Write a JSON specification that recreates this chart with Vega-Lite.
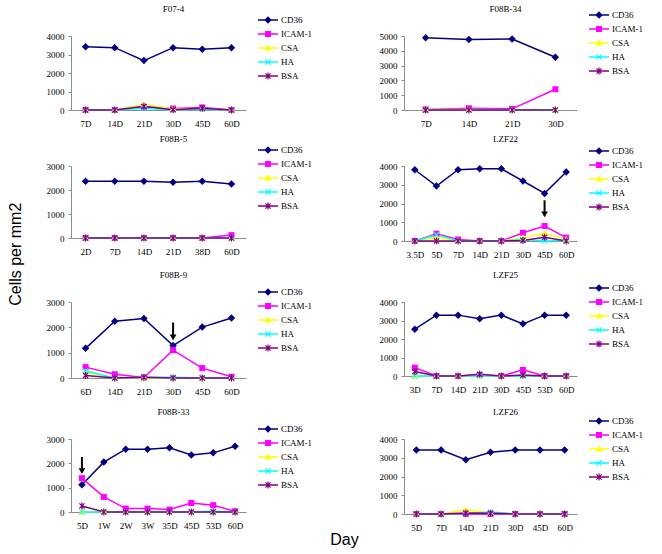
{
"$schema":"https://vega.github.io/schema/vega-lite/v6.json",
"background":"white",
"padding":{"left":7,"top":4,"right":0,"bottom":0},
"config":{
 "view":{"stroke":null},
 "axis":{"labelFont":"Liberation Serif","labelFontSize":9,"labelColor":"#000","domainColor":"#8c8c8c","tickColor":"#8c8c8c","grid":false,"title":null,"domainWidth":1},
 "axisX":{"ticks":false,"labelPadding":9,"labelAngle":0},
 "axisY":{"tickSize":3,"labelPadding":4,"format":"d"},
 "legend":{"labelFont":"Liberation Serif","labelFontSize":9,"labelColor":"#000","symbolSize":100,"symbolOpacity":1,"symbolStrokeWidth":0,"labelOffset":8,"rowPadding":4,"padding":0},
 "title":{"font":"Liberation Serif","fontSize":9,"fontWeight":"normal","color":"#000","anchor":"middle","frame":"group","baseline":"bottom","dx":15},
 "line":{"strokeWidth":1.5}
},
"datasets":{"d":[
{"p":"F07-4","day":"7D","i":0,"s":"CD36","v":3420},{"p":"F07-4","day":"14D","i":1,"s":"CD36","v":3370},{"p":"F07-4","day":"21D","i":2,"s":"CD36","v":2670},{"p":"F07-4","day":"30D","i":3,"s":"CD36","v":3370},{"p":"F07-4","day":"45D","i":4,"s":"CD36","v":3280},{"p":"F07-4","day":"60D","i":5,"s":"CD36","v":3370},
{"p":"F07-4","day":"7D","i":0,"s":"ICAM-1","v":0},{"p":"F07-4","day":"14D","i":1,"s":"ICAM-1","v":0},{"p":"F07-4","day":"21D","i":2,"s":"ICAM-1","v":150},{"p":"F07-4","day":"30D","i":3,"s":"ICAM-1","v":80},{"p":"F07-4","day":"45D","i":4,"s":"ICAM-1","v":140},{"p":"F07-4","day":"60D","i":5,"s":"ICAM-1","v":0},
{"p":"F07-4","day":"7D","i":0,"s":"CSA","v":0},{"p":"F07-4","day":"14D","i":1,"s":"CSA","v":0},{"p":"F07-4","day":"21D","i":2,"s":"CSA","v":300},{"p":"F07-4","day":"30D","i":3,"s":"CSA","v":50},{"p":"F07-4","day":"45D","i":4,"s":"CSA","v":60},{"p":"F07-4","day":"60D","i":5,"s":"CSA","v":0},
{"p":"F07-4","day":"7D","i":0,"s":"HA","v":0},{"p":"F07-4","day":"14D","i":1,"s":"HA","v":0},{"p":"F07-4","day":"21D","i":2,"s":"HA","v":90},{"p":"F07-4","day":"30D","i":3,"s":"HA","v":0},{"p":"F07-4","day":"45D","i":4,"s":"HA","v":40},{"p":"F07-4","day":"60D","i":5,"s":"HA","v":0},
{"p":"F07-4","day":"7D","i":0,"s":"BSA","v":0},{"p":"F07-4","day":"14D","i":1,"s":"BSA","v":0},{"p":"F07-4","day":"21D","i":2,"s":"BSA","v":200},{"p":"F07-4","day":"30D","i":3,"s":"BSA","v":20},{"p":"F07-4","day":"45D","i":4,"s":"BSA","v":100},{"p":"F07-4","day":"60D","i":5,"s":"BSA","v":0},

{"p":"F08B-34","day":"7D","i":0,"s":"CD36","v":4890},{"p":"F08B-34","day":"14D","i":1,"s":"CD36","v":4770},{"p":"F08B-34","day":"21D","i":2,"s":"CD36","v":4790},{"p":"F08B-34","day":"30D","i":3,"s":"CD36","v":3560},
{"p":"F08B-34","day":"7D","i":0,"s":"ICAM-1","v":40},{"p":"F08B-34","day":"14D","i":1,"s":"ICAM-1","v":120},{"p":"F08B-34","day":"21D","i":2,"s":"ICAM-1","v":80},{"p":"F08B-34","day":"30D","i":3,"s":"ICAM-1","v":1400},
{"p":"F08B-34","day":"7D","i":0,"s":"CSA","v":30},{"p":"F08B-34","day":"14D","i":1,"s":"CSA","v":40},{"p":"F08B-34","day":"21D","i":2,"s":"CSA","v":20},{"p":"F08B-34","day":"30D","i":3,"s":"CSA","v":0},
{"p":"F08B-34","day":"7D","i":0,"s":"HA","v":0},{"p":"F08B-34","day":"14D","i":1,"s":"HA","v":0},{"p":"F08B-34","day":"21D","i":2,"s":"HA","v":0},{"p":"F08B-34","day":"30D","i":3,"s":"HA","v":0},
{"p":"F08B-34","day":"7D","i":0,"s":"BSA","v":0},{"p":"F08B-34","day":"14D","i":1,"s":"BSA","v":0},{"p":"F08B-34","day":"21D","i":2,"s":"BSA","v":0},{"p":"F08B-34","day":"30D","i":3,"s":"BSA","v":0},

{"p":"F08B-5","day":"2D","i":0,"s":"CD36","v":2360},{"p":"F08B-5","day":"7D","i":1,"s":"CD36","v":2360},{"p":"F08B-5","day":"14D","i":2,"s":"CD36","v":2360},{"p":"F08B-5","day":"21D","i":3,"s":"CD36","v":2320},{"p":"F08B-5","day":"38D","i":4,"s":"CD36","v":2360},{"p":"F08B-5","day":"60D","i":5,"s":"CD36","v":2250},
{"p":"F08B-5","day":"2D","i":0,"s":"ICAM-1","v":0},{"p":"F08B-5","day":"7D","i":1,"s":"ICAM-1","v":0},{"p":"F08B-5","day":"14D","i":2,"s":"ICAM-1","v":0},{"p":"F08B-5","day":"21D","i":3,"s":"ICAM-1","v":0},{"p":"F08B-5","day":"38D","i":4,"s":"ICAM-1","v":0},{"p":"F08B-5","day":"60D","i":5,"s":"ICAM-1","v":120},
{"p":"F08B-5","day":"2D","i":0,"s":"CSA","v":0},{"p":"F08B-5","day":"7D","i":1,"s":"CSA","v":0},{"p":"F08B-5","day":"14D","i":2,"s":"CSA","v":0},{"p":"F08B-5","day":"21D","i":3,"s":"CSA","v":0},{"p":"F08B-5","day":"38D","i":4,"s":"CSA","v":0},{"p":"F08B-5","day":"60D","i":5,"s":"CSA","v":0},
{"p":"F08B-5","day":"2D","i":0,"s":"HA","v":0},{"p":"F08B-5","day":"7D","i":1,"s":"HA","v":0},{"p":"F08B-5","day":"14D","i":2,"s":"HA","v":0},{"p":"F08B-5","day":"21D","i":3,"s":"HA","v":0},{"p":"F08B-5","day":"38D","i":4,"s":"HA","v":0},{"p":"F08B-5","day":"60D","i":5,"s":"HA","v":0},
{"p":"F08B-5","day":"2D","i":0,"s":"BSA","v":0},{"p":"F08B-5","day":"7D","i":1,"s":"BSA","v":0},{"p":"F08B-5","day":"14D","i":2,"s":"BSA","v":0},{"p":"F08B-5","day":"21D","i":3,"s":"BSA","v":0},{"p":"F08B-5","day":"38D","i":4,"s":"BSA","v":0},{"p":"F08B-5","day":"60D","i":5,"s":"BSA","v":0},

{"p":"LZF22","day":"3.5D","i":0,"s":"CD36","v":3800},{"p":"LZF22","day":"5D","i":1,"s":"CD36","v":2930},{"p":"LZF22","day":"7D","i":2,"s":"CD36","v":3800},{"p":"LZF22","day":"14D","i":3,"s":"CD36","v":3850},{"p":"LZF22","day":"21D","i":4,"s":"CD36","v":3850},{"p":"LZF22","day":"30D","i":5,"s":"CD36","v":3200},{"p":"LZF22","day":"45D","i":6,"s":"CD36","v":2540},{"p":"LZF22","day":"60D","i":7,"s":"CD36","v":3680},
{"p":"LZF22","day":"3.5D","i":0,"s":"ICAM-1","v":0},{"p":"LZF22","day":"5D","i":1,"s":"ICAM-1","v":390},{"p":"LZF22","day":"7D","i":2,"s":"ICAM-1","v":80},{"p":"LZF22","day":"14D","i":3,"s":"ICAM-1","v":0},{"p":"LZF22","day":"21D","i":4,"s":"ICAM-1","v":0},{"p":"LZF22","day":"30D","i":5,"s":"ICAM-1","v":440},{"p":"LZF22","day":"45D","i":6,"s":"ICAM-1","v":800},{"p":"LZF22","day":"60D","i":7,"s":"ICAM-1","v":180},
{"p":"LZF22","day":"3.5D","i":0,"s":"CSA","v":0},{"p":"LZF22","day":"5D","i":1,"s":"CSA","v":200},{"p":"LZF22","day":"7D","i":2,"s":"CSA","v":30},{"p":"LZF22","day":"14D","i":3,"s":"CSA","v":0},{"p":"LZF22","day":"21D","i":4,"s":"CSA","v":0},{"p":"LZF22","day":"30D","i":5,"s":"CSA","v":180},{"p":"LZF22","day":"45D","i":6,"s":"CSA","v":400},{"p":"LZF22","day":"60D","i":7,"s":"CSA","v":100},
{"p":"LZF22","day":"3.5D","i":0,"s":"HA","v":0},{"p":"LZF22","day":"5D","i":1,"s":"HA","v":330},{"p":"LZF22","day":"7D","i":2,"s":"HA","v":20},{"p":"LZF22","day":"14D","i":3,"s":"HA","v":0},{"p":"LZF22","day":"21D","i":4,"s":"HA","v":0},{"p":"LZF22","day":"30D","i":5,"s":"HA","v":80},{"p":"LZF22","day":"45D","i":6,"s":"HA","v":0},{"p":"LZF22","day":"60D","i":7,"s":"HA","v":30},
{"p":"LZF22","day":"3.5D","i":0,"s":"BSA","v":0},{"p":"LZF22","day":"5D","i":1,"s":"BSA","v":0},{"p":"LZF22","day":"7D","i":2,"s":"BSA","v":0},{"p":"LZF22","day":"14D","i":3,"s":"BSA","v":0},{"p":"LZF22","day":"21D","i":4,"s":"BSA","v":0},{"p":"LZF22","day":"30D","i":5,"s":"BSA","v":30},{"p":"LZF22","day":"45D","i":6,"s":"BSA","v":200},{"p":"LZF22","day":"60D","i":7,"s":"BSA","v":0},

{"p":"F08B-9","day":"6D","i":0,"s":"CD36","v":1170},{"p":"F08B-9","day":"14D","i":1,"s":"CD36","v":2240},{"p":"F08B-9","day":"21D","i":2,"s":"CD36","v":2350},{"p":"F08B-9","day":"30D","i":3,"s":"CD36","v":1280},{"p":"F08B-9","day":"45D","i":4,"s":"CD36","v":2010},{"p":"F08B-9","day":"60D","i":5,"s":"CD36","v":2370},
{"p":"F08B-9","day":"6D","i":0,"s":"ICAM-1","v":430},{"p":"F08B-9","day":"14D","i":1,"s":"ICAM-1","v":150},{"p":"F08B-9","day":"21D","i":2,"s":"ICAM-1","v":20},{"p":"F08B-9","day":"30D","i":3,"s":"ICAM-1","v":1100},{"p":"F08B-9","day":"45D","i":4,"s":"ICAM-1","v":390},{"p":"F08B-9","day":"60D","i":5,"s":"ICAM-1","v":50},
{"p":"F08B-9","day":"6D","i":0,"s":"CSA","v":230},{"p":"F08B-9","day":"14D","i":1,"s":"CSA","v":0},{"p":"F08B-9","day":"21D","i":2,"s":"CSA","v":0},{"p":"F08B-9","day":"30D","i":3,"s":"CSA","v":0},{"p":"F08B-9","day":"45D","i":4,"s":"CSA","v":0},{"p":"F08B-9","day":"60D","i":5,"s":"CSA","v":0},
{"p":"F08B-9","day":"6D","i":0,"s":"HA","v":280},{"p":"F08B-9","day":"14D","i":1,"s":"HA","v":0},{"p":"F08B-9","day":"21D","i":2,"s":"HA","v":30},{"p":"F08B-9","day":"30D","i":3,"s":"HA","v":30},{"p":"F08B-9","day":"45D","i":4,"s":"HA","v":0},{"p":"F08B-9","day":"60D","i":5,"s":"HA","v":0},
{"p":"F08B-9","day":"6D","i":0,"s":"BSA","v":100},{"p":"F08B-9","day":"14D","i":1,"s":"BSA","v":0},{"p":"F08B-9","day":"21D","i":2,"s":"BSA","v":30},{"p":"F08B-9","day":"30D","i":3,"s":"BSA","v":0},{"p":"F08B-9","day":"45D","i":4,"s":"BSA","v":0},{"p":"F08B-9","day":"60D","i":5,"s":"BSA","v":0},

{"p":"LZF25","day":"3D","i":0,"s":"CD36","v":2530},{"p":"LZF25","day":"7D","i":1,"s":"CD36","v":3290},{"p":"LZF25","day":"14D","i":2,"s":"CD36","v":3290},{"p":"LZF25","day":"21D","i":3,"s":"CD36","v":3090},{"p":"LZF25","day":"30D","i":4,"s":"CD36","v":3290},{"p":"LZF25","day":"45D","i":5,"s":"CD36","v":2820},{"p":"LZF25","day":"53D","i":6,"s":"CD36","v":3290},{"p":"LZF25","day":"60D","i":7,"s":"CD36","v":3290},
{"p":"LZF25","day":"3D","i":0,"s":"ICAM-1","v":450},{"p":"LZF25","day":"7D","i":1,"s":"ICAM-1","v":0},{"p":"LZF25","day":"14D","i":2,"s":"ICAM-1","v":0},{"p":"LZF25","day":"21D","i":3,"s":"ICAM-1","v":50},{"p":"LZF25","day":"30D","i":4,"s":"ICAM-1","v":0},{"p":"LZF25","day":"45D","i":5,"s":"ICAM-1","v":330},{"p":"LZF25","day":"53D","i":6,"s":"ICAM-1","v":0},{"p":"LZF25","day":"60D","i":7,"s":"ICAM-1","v":0},
{"p":"LZF25","day":"3D","i":0,"s":"CSA","v":0},{"p":"LZF25","day":"7D","i":1,"s":"CSA","v":0},{"p":"LZF25","day":"14D","i":2,"s":"CSA","v":0},{"p":"LZF25","day":"21D","i":3,"s":"CSA","v":0},{"p":"LZF25","day":"30D","i":4,"s":"CSA","v":0},{"p":"LZF25","day":"45D","i":5,"s":"CSA","v":0},{"p":"LZF25","day":"53D","i":6,"s":"CSA","v":0},{"p":"LZF25","day":"60D","i":7,"s":"CSA","v":0},
{"p":"LZF25","day":"3D","i":0,"s":"HA","v":0},{"p":"LZF25","day":"7D","i":1,"s":"HA","v":0},{"p":"LZF25","day":"14D","i":2,"s":"HA","v":0},{"p":"LZF25","day":"21D","i":3,"s":"HA","v":0},{"p":"LZF25","day":"30D","i":4,"s":"HA","v":0},{"p":"LZF25","day":"45D","i":5,"s":"HA","v":0},{"p":"LZF25","day":"53D","i":6,"s":"HA","v":0},{"p":"LZF25","day":"60D","i":7,"s":"HA","v":0},
{"p":"LZF25","day":"3D","i":0,"s":"BSA","v":240},{"p":"LZF25","day":"7D","i":1,"s":"BSA","v":0},{"p":"LZF25","day":"14D","i":2,"s":"BSA","v":0},{"p":"LZF25","day":"21D","i":3,"s":"BSA","v":90},{"p":"LZF25","day":"30D","i":4,"s":"BSA","v":0},{"p":"LZF25","day":"45D","i":5,"s":"BSA","v":50},{"p":"LZF25","day":"53D","i":6,"s":"BSA","v":0},{"p":"LZF25","day":"60D","i":7,"s":"BSA","v":0},

{"p":"F08B-33","day":"5D","i":0,"s":"CD36","v":1120},{"p":"F08B-33","day":"1W","i":1,"s":"CD36","v":2050},{"p":"F08B-33","day":"2W","i":2,"s":"CD36","v":2580},{"p":"F08B-33","day":"3W","i":3,"s":"CD36","v":2580},{"p":"F08B-33","day":"35D","i":4,"s":"CD36","v":2640},{"p":"F08B-33","day":"45D","i":5,"s":"CD36","v":2340},{"p":"F08B-33","day":"53D","i":6,"s":"CD36","v":2430},{"p":"F08B-33","day":"60D","i":7,"s":"CD36","v":2700},
{"p":"F08B-33","day":"5D","i":0,"s":"ICAM-1","v":1390},{"p":"F08B-33","day":"1W","i":1,"s":"ICAM-1","v":620},{"p":"F08B-33","day":"2W","i":2,"s":"ICAM-1","v":140},{"p":"F08B-33","day":"3W","i":3,"s":"ICAM-1","v":140},{"p":"F08B-33","day":"35D","i":4,"s":"ICAM-1","v":100},{"p":"F08B-33","day":"45D","i":5,"s":"ICAM-1","v":370},{"p":"F08B-33","day":"53D","i":6,"s":"ICAM-1","v":280},{"p":"F08B-33","day":"60D","i":7,"s":"ICAM-1","v":30},
{"p":"F08B-33","day":"5D","i":0,"s":"CSA","v":0},{"p":"F08B-33","day":"1W","i":1,"s":"CSA","v":30},{"p":"F08B-33","day":"2W","i":2,"s":"CSA","v":0},{"p":"F08B-33","day":"3W","i":3,"s":"CSA","v":0},{"p":"F08B-33","day":"35D","i":4,"s":"CSA","v":0},{"p":"F08B-33","day":"45D","i":5,"s":"CSA","v":0},{"p":"F08B-33","day":"53D","i":6,"s":"CSA","v":0},{"p":"F08B-33","day":"60D","i":7,"s":"CSA","v":0},
{"p":"F08B-33","day":"5D","i":0,"s":"HA","v":0},{"p":"F08B-33","day":"1W","i":1,"s":"HA","v":0},{"p":"F08B-33","day":"2W","i":2,"s":"HA","v":0},{"p":"F08B-33","day":"3W","i":3,"s":"HA","v":0},{"p":"F08B-33","day":"35D","i":4,"s":"HA","v":0},{"p":"F08B-33","day":"45D","i":5,"s":"HA","v":0},{"p":"F08B-33","day":"53D","i":6,"s":"HA","v":30},{"p":"F08B-33","day":"60D","i":7,"s":"HA","v":0},
{"p":"F08B-33","day":"5D","i":0,"s":"BSA","v":250},{"p":"F08B-33","day":"1W","i":1,"s":"BSA","v":0},{"p":"F08B-33","day":"2W","i":2,"s":"BSA","v":0},{"p":"F08B-33","day":"3W","i":3,"s":"BSA","v":0},{"p":"F08B-33","day":"35D","i":4,"s":"BSA","v":0},{"p":"F08B-33","day":"45D","i":5,"s":"BSA","v":0},{"p":"F08B-33","day":"53D","i":6,"s":"BSA","v":0},{"p":"F08B-33","day":"60D","i":7,"s":"BSA","v":0},

{"p":"LZF26","day":"5D","i":0,"s":"CD36","v":3410},{"p":"LZF26","day":"7D","i":1,"s":"CD36","v":3410},{"p":"LZF26","day":"14D","i":2,"s":"CD36","v":2900},{"p":"LZF26","day":"21D","i":3,"s":"CD36","v":3290},{"p":"LZF26","day":"30D","i":4,"s":"CD36","v":3410},{"p":"LZF26","day":"45D","i":5,"s":"CD36","v":3410},{"p":"LZF26","day":"60D","i":6,"s":"CD36","v":3410},
{"p":"LZF26","day":"5D","i":0,"s":"ICAM-1","v":0},{"p":"LZF26","day":"7D","i":1,"s":"ICAM-1","v":0},{"p":"LZF26","day":"14D","i":2,"s":"ICAM-1","v":0},{"p":"LZF26","day":"21D","i":3,"s":"ICAM-1","v":0},{"p":"LZF26","day":"30D","i":4,"s":"ICAM-1","v":0},{"p":"LZF26","day":"45D","i":5,"s":"ICAM-1","v":0},{"p":"LZF26","day":"60D","i":6,"s":"ICAM-1","v":0},
{"p":"LZF26","day":"5D","i":0,"s":"CSA","v":0},{"p":"LZF26","day":"7D","i":1,"s":"CSA","v":0},{"p":"LZF26","day":"14D","i":2,"s":"CSA","v":220},{"p":"LZF26","day":"21D","i":3,"s":"CSA","v":50},{"p":"LZF26","day":"30D","i":4,"s":"CSA","v":0},{"p":"LZF26","day":"45D","i":5,"s":"CSA","v":0},{"p":"LZF26","day":"60D","i":6,"s":"CSA","v":0},
{"p":"LZF26","day":"5D","i":0,"s":"HA","v":0},{"p":"LZF26","day":"7D","i":1,"s":"HA","v":0},{"p":"LZF26","day":"14D","i":2,"s":"HA","v":30},{"p":"LZF26","day":"21D","i":3,"s":"HA","v":100},{"p":"LZF26","day":"30D","i":4,"s":"HA","v":0},{"p":"LZF26","day":"45D","i":5,"s":"HA","v":0},{"p":"LZF26","day":"60D","i":6,"s":"HA","v":0},
{"p":"LZF26","day":"5D","i":0,"s":"BSA","v":0},{"p":"LZF26","day":"7D","i":1,"s":"BSA","v":0},{"p":"LZF26","day":"14D","i":2,"s":"BSA","v":50},{"p":"LZF26","day":"21D","i":3,"s":"BSA","v":40},{"p":"LZF26","day":"30D","i":4,"s":"BSA","v":0},{"p":"LZF26","day":"45D","i":5,"s":"BSA","v":0},{"p":"LZF26","day":"60D","i":6,"s":"BSA","v":0}
],
"arrows":[
{"p":"LZF22","day":"45D","v":2170,"v2":1420},
{"p":"F08B-9","day":"30D","v":2190,"v2":1600},
{"p":"F08B-33","day":"5D","v":2260,"v2":1680}
]},
"title":{"text":"Cells per mm2","orient":"left","font":"Liberation Sans","fontSize":16,"offset":22,"dx":22,"dy":0,"frame":"bounds"},
"hconcat":[{
 "title":{"text":"Day","orient":"bottom","font":"Liberation Sans","fontSize":16,"offset":0,"baseline":"top","dx":0,"frame":"bounds"},
 "spacing":6,
 "vconcat":[
  {"spacing":67,"hconcat":[
   {"width":175,"height":74,"title":{"text":"F07-4","offset":1.5},"data":{"name":"d"},"transform":[{"filter":"datum.p==='F07-4'"}],
    "encoding":{"x":{"field":"day","type":"ordinal","scale":{"type":"point","padding":0.5,"domain":["7D","14D","21D","30D","45D","60D"]}},"y":{"field":"v","type":"quantitative","scale":{"domain":[0,4000],"nice":false},"axis":{"values":[0,1000,2000,3000,4000]}}},
    "layer":[
     {"mark":"line","encoding":{"color":{"field":"s","type":"nominal","scale":{"domain":["CD36","ICAM-1","CSA","HA","BSA"],"range":["#000080","#FF00FF","#FFFF00","#00FFFF","#800080"]},"legend":null},"order":{"field":"i","type":"quantitative"}}},
     {"mark":{"type":"point","filled":true,"opacity":1,"size":100},"encoding":{"color":{"field":"s","type":"nominal","scale":{"domain":["CD36","ICAM-1","CSA","HA","BSA"],"range":["#000080","#FF00FF","#FFFF00","#00FFFF","#800080"]},"legend":null},"shape":{"field":"s","type":"nominal","scale":{"domain":["CD36","ICAM-1","CSA","HA","BSA"],"range":["M0,-0.75L0.75,0L0,0.75L-0.75,0Z","M-0.6,-0.6H0.6V0.6H-0.6Z","M0,-0.7L0.7,0.5H-0.7Z","M-0.6,-0.43L-0.43,-0.6L0.6,0.43L0.43,0.6ZM-0.43,0.6L-0.6,0.43L0.43,-0.6L0.6,-0.43Z","M-0.6,-0.43L-0.43,-0.6L0.6,0.43L0.43,0.6ZM-0.43,0.6L-0.6,0.43L0.43,-0.6L0.6,-0.43ZM-0.12,-0.7H0.12V0.7H-0.12Z"]},"legend":null}}},
     {"mark":{"type":"point","filled":true,"opacity":0,"size":100},"encoding":{"color":{"field":"s","type":"nominal","scale":{"domain":["CD36","ICAM-1","CSA","HA","BSA"],"range":["#000080","#FF00FF","#FFFF00","#00FFFF","#800080"]},"legend":{"orient":"none","legendX":192,"legendY":-21,"title":null}},"shape":{"field":"s","type":"nominal","scale":{"domain":["CD36","ICAM-1","CSA","HA","BSA"],"range":["M-2,-0.15H2V0.15H-2ZM0,-0.75L0.75,0L0,0.75L-0.75,0Z","M-2,-0.15H2V0.15H-2ZM-0.6,-0.6H0.6V0.6H-0.6Z","M-2,-0.15H2V0.15H-2ZM0,-0.7L0.7,0.5H-0.7Z","M-2,-0.15H2V0.15H-2ZM-0.6,-0.43L-0.43,-0.6L0.6,0.43L0.43,0.6ZM-0.43,0.6L-0.6,0.43L0.43,-0.6L0.6,-0.43Z","M-2,-0.15H2V0.15H-2ZM-0.6,-0.43L-0.43,-0.6L0.6,0.43L0.43,0.6ZM-0.43,0.6L-0.6,0.43L0.43,-0.6L0.6,-0.43ZM-0.12,-0.7H0.12V0.7H-0.12Z"]},"legend":{"orient":"none","legendX":192,"legendY":-21,"title":null}}}}
    ],
    "resolve":{"scale":{"color":"independent","shape":"independent"}}},
   {"width":173,"height":74,"title":{"text":"F08B-34","offset":-3.5},"data":{"name":"d"},"transform":[{"filter":"datum.p==='F08B-34'"}],
    "encoding":{"x":{"field":"day","type":"ordinal","scale":{"type":"point","padding":0.5,"domain":["7D","14D","21D","30D"]}},"y":{"field":"v","type":"quantitative","scale":{"domain":[0,5000],"nice":false},"axis":{"values":[0,1000,2000,3000,4000,5000]}}},
    "layer":[
     {"mark":"line","encoding":{"color":{"field":"s","type":"nominal","scale":{"domain":["CD36","ICAM-1","CSA","HA","BSA"],"range":["#000080","#FF00FF","#FFFF00","#00FFFF","#800080"]},"legend":null},"order":{"field":"i","type":"quantitative"}}},
     {"mark":{"type":"point","filled":true,"opacity":1,"size":100},"encoding":{"color":{"field":"s","type":"nominal","scale":{"domain":["CD36","ICAM-1","CSA","HA","BSA"],"range":["#000080","#FF00FF","#FFFF00","#00FFFF","#800080"]},"legend":null},"shape":{"field":"s","type":"nominal","scale":{"domain":["CD36","ICAM-1","CSA","HA","BSA"],"range":["M0,-0.75L0.75,0L0,0.75L-0.75,0Z","M-0.6,-0.6H0.6V0.6H-0.6Z","M0,-0.7L0.7,0.5H-0.7Z","M-0.6,-0.43L-0.43,-0.6L0.6,0.43L0.43,0.6ZM-0.43,0.6L-0.6,0.43L0.43,-0.6L0.6,-0.43Z","M-0.6,-0.43L-0.43,-0.6L0.6,0.43L0.43,0.6ZM-0.43,0.6L-0.6,0.43L0.43,-0.6L0.6,-0.43ZM-0.12,-0.7H0.12V0.7H-0.12Z"]},"legend":null}}},
     {"mark":{"type":"point","filled":true,"opacity":0,"size":100},"encoding":{"color":{"field":"s","type":"nominal","scale":{"domain":["CD36","ICAM-1","CSA","HA","BSA"],"range":["#000080","#FF00FF","#FFFF00","#00FFFF","#800080"]},"legend":{"orient":"none","legendX":190,"legendY":-26,"title":null}},"shape":{"field":"s","type":"nominal","scale":{"domain":["CD36","ICAM-1","CSA","HA","BSA"],"range":["M-2,-0.15H2V0.15H-2ZM0,-0.75L0.75,0L0,0.75L-0.75,0Z","M-2,-0.15H2V0.15H-2ZM-0.6,-0.6H0.6V0.6H-0.6Z","M-2,-0.15H2V0.15H-2ZM0,-0.7L0.7,0.5H-0.7Z","M-2,-0.15H2V0.15H-2ZM-0.6,-0.43L-0.43,-0.6L0.6,0.43L0.43,0.6ZM-0.43,0.6L-0.6,0.43L0.43,-0.6L0.6,-0.43Z","M-2,-0.15H2V0.15H-2ZM-0.6,-0.43L-0.43,-0.6L0.6,0.43L0.43,0.6ZM-0.43,0.6L-0.6,0.43L0.43,-0.6L0.6,-0.43ZM-0.12,-0.7H0.12V0.7H-0.12Z"]},"legend":{"orient":"none","legendX":190,"legendY":-26,"title":null}}}}
    ],
    "resolve":{"scale":{"color":"independent","shape":"independent"}}}
  ]},
  {"spacing":11,"vconcat":[
   {"spacing":67,"hconcat":[
    {"width":175,"height":72,"title":{"text":"F08B-5","offset":1.5},"data":{"name":"d"},"transform":[{"filter":"datum.p==='F08B-5'"}],
     "encoding":{"x":{"field":"day","type":"ordinal","scale":{"type":"point","padding":0.5,"domain":["2D","7D","14D","21D","38D","60D"]}},"y":{"field":"v","type":"quantitative","scale":{"domain":[0,3000],"nice":false},"axis":{"values":[0,1000,2000,3000]}}},
     "layer":[
      {"mark":"line","encoding":{"color":{"field":"s","type":"nominal","scale":{"domain":["CD36","ICAM-1","CSA","HA","BSA"],"range":["#000080","#FF00FF","#FFFF00","#00FFFF","#800080"]},"legend":null},"order":{"field":"i","type":"quantitative"}}},
      {"mark":{"type":"point","filled":true,"opacity":1,"size":100},"encoding":{"color":{"field":"s","type":"nominal","scale":{"domain":["CD36","ICAM-1","CSA","HA","BSA"],"range":["#000080","#FF00FF","#FFFF00","#00FFFF","#800080"]},"legend":null},"shape":{"field":"s","type":"nominal","scale":{"domain":["CD36","ICAM-1","CSA","HA","BSA"],"range":["M0,-0.75L0.75,0L0,0.75L-0.75,0Z","M-0.6,-0.6H0.6V0.6H-0.6Z","M0,-0.7L0.7,0.5H-0.7Z","M-0.6,-0.43L-0.43,-0.6L0.6,0.43L0.43,0.6ZM-0.43,0.6L-0.6,0.43L0.43,-0.6L0.6,-0.43Z","M-0.6,-0.43L-0.43,-0.6L0.6,0.43L0.43,0.6ZM-0.43,0.6L-0.6,0.43L0.43,-0.6L0.6,-0.43ZM-0.12,-0.7H0.12V0.7H-0.12Z"]},"legend":null}}},
      {"mark":{"type":"point","filled":true,"opacity":0,"size":100},"encoding":{"color":{"field":"s","type":"nominal","scale":{"domain":["CD36","ICAM-1","CSA","HA","BSA"],"range":["#000080","#FF00FF","#FFFF00","#00FFFF","#800080"]},"legend":{"orient":"none","legendX":192,"legendY":-21,"title":null}},"shape":{"field":"s","type":"nominal","scale":{"domain":["CD36","ICAM-1","CSA","HA","BSA"],"range":["M-2,-0.15H2V0.15H-2ZM0,-0.75L0.75,0L0,0.75L-0.75,0Z","M-2,-0.15H2V0.15H-2ZM-0.6,-0.6H0.6V0.6H-0.6Z","M-2,-0.15H2V0.15H-2ZM0,-0.7L0.7,0.5H-0.7Z","M-2,-0.15H2V0.15H-2ZM-0.6,-0.43L-0.43,-0.6L0.6,0.43L0.43,0.6ZM-0.43,0.6L-0.6,0.43L0.43,-0.6L0.6,-0.43Z","M-2,-0.15H2V0.15H-2ZM-0.6,-0.43L-0.43,-0.6L0.6,0.43L0.43,0.6ZM-0.43,0.6L-0.6,0.43L0.43,-0.6L0.6,-0.43ZM-0.12,-0.7H0.12V0.7H-0.12Z"]},"legend":{"orient":"none","legendX":192,"legendY":-21,"title":null}}}}
     ],
     "resolve":{"scale":{"color":"independent","shape":"independent"}}},
    {"width":173,"height":75,"title":{"text":"LZF22","offset":2.5},"data":{"name":"d"},"transform":[{"filter":"datum.p==='LZF22'"}],
     "encoding":{"x":{"field":"day","type":"ordinal","scale":{"type":"point","padding":0.5,"domain":["3.5D","5D","7D","14D","21D","30D","45D","60D"]}},"y":{"field":"v","type":"quantitative","scale":{"domain":[0,4000],"nice":false},"axis":{"values":[0,1000,2000,3000,4000]}}},
     "layer":[
      {"mark":"line","encoding":{"color":{"field":"s","type":"nominal","scale":{"domain":["CD36","ICAM-1","CSA","HA","BSA"],"range":["#000080","#FF00FF","#FFFF00","#00FFFF","#800080"]},"legend":null},"order":{"field":"i","type":"quantitative"}}},
      {"mark":{"type":"point","filled":true,"opacity":1,"size":100},"encoding":{"color":{"field":"s","type":"nominal","scale":{"domain":["CD36","ICAM-1","CSA","HA","BSA"],"range":["#000080","#FF00FF","#FFFF00","#00FFFF","#800080"]},"legend":null},"shape":{"field":"s","type":"nominal","scale":{"domain":["CD36","ICAM-1","CSA","HA","BSA"],"range":["M0,-0.75L0.75,0L0,0.75L-0.75,0Z","M-0.6,-0.6H0.6V0.6H-0.6Z","M0,-0.7L0.7,0.5H-0.7Z","M-0.6,-0.43L-0.43,-0.6L0.6,0.43L0.43,0.6ZM-0.43,0.6L-0.6,0.43L0.43,-0.6L0.6,-0.43Z","M-0.6,-0.43L-0.43,-0.6L0.6,0.43L0.43,0.6ZM-0.43,0.6L-0.6,0.43L0.43,-0.6L0.6,-0.43ZM-0.12,-0.7H0.12V0.7H-0.12Z"]},"legend":null}}},
      {"mark":{"type":"point","filled":true,"opacity":0,"size":100},"encoding":{"color":{"field":"s","type":"nominal","scale":{"domain":["CD36","ICAM-1","CSA","HA","BSA"],"range":["#000080","#FF00FF","#FFFF00","#00FFFF","#800080"]},"legend":{"orient":"none","legendX":190,"legendY":-20,"title":null}},"shape":{"field":"s","type":"nominal","scale":{"domain":["CD36","ICAM-1","CSA","HA","BSA"],"range":["M-2,-0.15H2V0.15H-2ZM0,-0.75L0.75,0L0,0.75L-0.75,0Z","M-2,-0.15H2V0.15H-2ZM-0.6,-0.6H0.6V0.6H-0.6Z","M-2,-0.15H2V0.15H-2ZM0,-0.7L0.7,0.5H-0.7Z","M-2,-0.15H2V0.15H-2ZM-0.6,-0.43L-0.43,-0.6L0.6,0.43L0.43,0.6ZM-0.43,0.6L-0.6,0.43L0.43,-0.6L0.6,-0.43Z","M-2,-0.15H2V0.15H-2ZM-0.6,-0.43L-0.43,-0.6L0.6,0.43L0.43,0.6ZM-0.43,0.6L-0.6,0.43L0.43,-0.6L0.6,-0.43ZM-0.12,-0.7H0.12V0.7H-0.12Z"]},"legend":{"orient":"none","legendX":190,"legendY":-20,"title":null}}}},
      {"data":{"name":"arrows"},"transform":[{"filter":"datum.p==='LZF22'"}],"layer":[
       {"mark":{"type":"rule","color":"#000","strokeWidth":2},"encoding":{"y2":{"field":"v2"}}},
       {"mark":{"type":"point","shape":"triangle-down","filled":true,"color":"#000","opacity":1,"size":45},"encoding":{"y":{"field":"v2","type":"quantitative"}}}
      ]}
     ],
     "resolve":{"scale":{"color":"independent","shape":"independent"}}}
   ]},
   {"spacing":67,"hconcat":[
    {"width":175,"height":76,"title":{"text":"F08B-9","offset":7.5},"data":{"name":"d"},"transform":[{"filter":"datum.p==='F08B-9'"}],
     "encoding":{"x":{"field":"day","type":"ordinal","scale":{"type":"point","padding":0.5,"domain":["6D","14D","21D","30D","45D","60D"]}},"y":{"field":"v","type":"quantitative","scale":{"domain":[0,3000],"nice":false},"axis":{"values":[0,1000,2000,3000]}}},
     "layer":[
      {"mark":"line","encoding":{"color":{"field":"s","type":"nominal","scale":{"domain":["CD36","ICAM-1","CSA","HA","BSA"],"range":["#000080","#FF00FF","#FFFF00","#00FFFF","#800080"]},"legend":null},"order":{"field":"i","type":"quantitative"}}},
      {"mark":{"type":"point","filled":true,"opacity":1,"size":100},"encoding":{"color":{"field":"s","type":"nominal","scale":{"domain":["CD36","ICAM-1","CSA","HA","BSA"],"range":["#000080","#FF00FF","#FFFF00","#00FFFF","#800080"]},"legend":null},"shape":{"field":"s","type":"nominal","scale":{"domain":["CD36","ICAM-1","CSA","HA","BSA"],"range":["M0,-0.75L0.75,0L0,0.75L-0.75,0Z","M-0.6,-0.6H0.6V0.6H-0.6Z","M0,-0.7L0.7,0.5H-0.7Z","M-0.6,-0.43L-0.43,-0.6L0.6,0.43L0.43,0.6ZM-0.43,0.6L-0.6,0.43L0.43,-0.6L0.6,-0.43Z","M-0.6,-0.43L-0.43,-0.6L0.6,0.43L0.43,0.6ZM-0.43,0.6L-0.6,0.43L0.43,-0.6L0.6,-0.43ZM-0.12,-0.7H0.12V0.7H-0.12Z"]},"legend":null}}},
      {"mark":{"type":"point","filled":true,"opacity":0,"size":100},"encoding":{"color":{"field":"s","type":"nominal","scale":{"domain":["CD36","ICAM-1","CSA","HA","BSA"],"range":["#000080","#FF00FF","#FFFF00","#00FFFF","#800080"]},"legend":{"orient":"none","legendX":192,"legendY":-15,"title":null}},"shape":{"field":"s","type":"nominal","scale":{"domain":["CD36","ICAM-1","CSA","HA","BSA"],"range":["M-2,-0.15H2V0.15H-2ZM0,-0.75L0.75,0L0,0.75L-0.75,0Z","M-2,-0.15H2V0.15H-2ZM-0.6,-0.6H0.6V0.6H-0.6Z","M-2,-0.15H2V0.15H-2ZM0,-0.7L0.7,0.5H-0.7Z","M-2,-0.15H2V0.15H-2ZM-0.6,-0.43L-0.43,-0.6L0.6,0.43L0.43,0.6ZM-0.43,0.6L-0.6,0.43L0.43,-0.6L0.6,-0.43Z","M-2,-0.15H2V0.15H-2ZM-0.6,-0.43L-0.43,-0.6L0.6,0.43L0.43,0.6ZM-0.43,0.6L-0.6,0.43L0.43,-0.6L0.6,-0.43ZM-0.12,-0.7H0.12V0.7H-0.12Z"]},"legend":{"orient":"none","legendX":192,"legendY":-15,"title":null}}}},
      {"data":{"name":"arrows"},"transform":[{"filter":"datum.p==='F08B-9'"}],"layer":[
       {"mark":{"type":"rule","color":"#000","strokeWidth":2},"encoding":{"y2":{"field":"v2"}}},
       {"mark":{"type":"point","shape":"triangle-down","filled":true,"color":"#000","opacity":1,"size":45},"encoding":{"y":{"field":"v2","type":"quantitative"}}}
      ]}
     ],
     "resolve":{"scale":{"color":"independent","shape":"independent"}}},
    {"width":173,"height":74,"title":{"text":"LZF25","offset":3.5},"data":{"name":"d"},"transform":[{"filter":"datum.p==='LZF25'"}],
     "encoding":{"x":{"field":"day","type":"ordinal","scale":{"type":"point","padding":0.5,"domain":["3D","7D","14D","21D","30D","45D","53D","60D"]}},"y":{"field":"v","type":"quantitative","scale":{"domain":[0,4000],"nice":false},"axis":{"values":[0,1000,2000,3000,4000]}}},
     "layer":[
      {"mark":"line","encoding":{"color":{"field":"s","type":"nominal","scale":{"domain":["CD36","ICAM-1","CSA","HA","BSA"],"range":["#000080","#FF00FF","#FFFF00","#00FFFF","#800080"]},"legend":null},"order":{"field":"i","type":"quantitative"}}},
      {"mark":{"type":"point","filled":true,"opacity":1,"size":100},"encoding":{"color":{"field":"s","type":"nominal","scale":{"domain":["CD36","ICAM-1","CSA","HA","BSA"],"range":["#000080","#FF00FF","#FFFF00","#00FFFF","#800080"]},"legend":null},"shape":{"field":"s","type":"nominal","scale":{"domain":["CD36","ICAM-1","CSA","HA","BSA"],"range":["M0,-0.75L0.75,0L0,0.75L-0.75,0Z","M-0.6,-0.6H0.6V0.6H-0.6Z","M0,-0.7L0.7,0.5H-0.7Z","M-0.6,-0.43L-0.43,-0.6L0.6,0.43L0.43,0.6ZM-0.43,0.6L-0.6,0.43L0.43,-0.6L0.6,-0.43Z","M-0.6,-0.43L-0.43,-0.6L0.6,0.43L0.43,0.6ZM-0.43,0.6L-0.6,0.43L0.43,-0.6L0.6,-0.43ZM-0.12,-0.7H0.12V0.7H-0.12Z"]},"legend":null}}},
      {"mark":{"type":"point","filled":true,"opacity":0,"size":100},"encoding":{"color":{"field":"s","type":"nominal","scale":{"domain":["CD36","ICAM-1","CSA","HA","BSA"],"range":["#000080","#FF00FF","#FFFF00","#00FFFF","#800080"]},"legend":{"orient":"none","legendX":190,"legendY":-19,"title":null}},"shape":{"field":"s","type":"nominal","scale":{"domain":["CD36","ICAM-1","CSA","HA","BSA"],"range":["M-2,-0.15H2V0.15H-2ZM0,-0.75L0.75,0L0,0.75L-0.75,0Z","M-2,-0.15H2V0.15H-2ZM-0.6,-0.6H0.6V0.6H-0.6Z","M-2,-0.15H2V0.15H-2ZM0,-0.7L0.7,0.5H-0.7Z","M-2,-0.15H2V0.15H-2ZM-0.6,-0.43L-0.43,-0.6L0.6,0.43L0.43,0.6ZM-0.43,0.6L-0.6,0.43L0.43,-0.6L0.6,-0.43Z","M-2,-0.15H2V0.15H-2ZM-0.6,-0.43L-0.43,-0.6L0.6,0.43L0.43,0.6ZM-0.43,0.6L-0.6,0.43L0.43,-0.6L0.6,-0.43ZM-0.12,-0.7H0.12V0.7H-0.12Z"]},"legend":{"orient":"none","legendX":190,"legendY":-19,"title":null}}}}
     ],
     "resolve":{"scale":{"color":"independent","shape":"independent"}}}
   ]},
   {"spacing":67,"hconcat":[
    {"width":175,"height":73,"title":{"text":"F08B-33","offset":7.5},"data":{"name":"d"},"transform":[{"filter":"datum.p==='F08B-33'"}],
     "encoding":{"x":{"field":"day","type":"ordinal","scale":{"type":"point","padding":0.5,"domain":["5D","1W","2W","3W","35D","45D","53D","60D"]}},"y":{"field":"v","type":"quantitative","scale":{"domain":[0,3000],"nice":false},"axis":{"values":[0,1000,2000,3000]}}},
     "layer":[
      {"mark":"line","encoding":{"color":{"field":"s","type":"nominal","scale":{"domain":["CD36","ICAM-1","CSA","HA","BSA"],"range":["#000080","#FF00FF","#FFFF00","#00FFFF","#800080"]},"legend":null},"order":{"field":"i","type":"quantitative"}}},
      {"mark":{"type":"point","filled":true,"opacity":1,"size":100},"encoding":{"color":{"field":"s","type":"nominal","scale":{"domain":["CD36","ICAM-1","CSA","HA","BSA"],"range":["#000080","#FF00FF","#FFFF00","#00FFFF","#800080"]},"legend":null},"shape":{"field":"s","type":"nominal","scale":{"domain":["CD36","ICAM-1","CSA","HA","BSA"],"range":["M0,-0.75L0.75,0L0,0.75L-0.75,0Z","M-0.6,-0.6H0.6V0.6H-0.6Z","M0,-0.7L0.7,0.5H-0.7Z","M-0.6,-0.43L-0.43,-0.6L0.6,0.43L0.43,0.6ZM-0.43,0.6L-0.6,0.43L0.43,-0.6L0.6,-0.43Z","M-0.6,-0.43L-0.43,-0.6L0.6,0.43L0.43,0.6ZM-0.43,0.6L-0.6,0.43L0.43,-0.6L0.6,-0.43ZM-0.12,-0.7H0.12V0.7H-0.12Z"]},"legend":null}}},
      {"mark":{"type":"point","filled":true,"opacity":0,"size":100},"encoding":{"color":{"field":"s","type":"nominal","scale":{"domain":["CD36","ICAM-1","CSA","HA","BSA"],"range":["#000080","#FF00FF","#FFFF00","#00FFFF","#800080"]},"legend":{"orient":"none","legendX":192,"legendY":-15,"title":null}},"shape":{"field":"s","type":"nominal","scale":{"domain":["CD36","ICAM-1","CSA","HA","BSA"],"range":["M-2,-0.15H2V0.15H-2ZM0,-0.75L0.75,0L0,0.75L-0.75,0Z","M-2,-0.15H2V0.15H-2ZM-0.6,-0.6H0.6V0.6H-0.6Z","M-2,-0.15H2V0.15H-2ZM0,-0.7L0.7,0.5H-0.7Z","M-2,-0.15H2V0.15H-2ZM-0.6,-0.43L-0.43,-0.6L0.6,0.43L0.43,0.6ZM-0.43,0.6L-0.6,0.43L0.43,-0.6L0.6,-0.43Z","M-2,-0.15H2V0.15H-2ZM-0.6,-0.43L-0.43,-0.6L0.6,0.43L0.43,0.6ZM-0.43,0.6L-0.6,0.43L0.43,-0.6L0.6,-0.43ZM-0.12,-0.7H0.12V0.7H-0.12Z"]},"legend":{"orient":"none","legendX":192,"legendY":-15,"title":null}}}},
      {"data":{"name":"arrows"},"transform":[{"filter":"datum.p==='F08B-33'"}],"layer":[
       {"mark":{"type":"rule","color":"#000","strokeWidth":2},"encoding":{"y2":{"field":"v2"}}},
       {"mark":{"type":"point","shape":"triangle-down","filled":true,"color":"#000","opacity":1,"size":45},"encoding":{"y":{"field":"v2","type":"quantitative"}}}
      ]}
     ],
     "resolve":{"scale":{"color":"independent","shape":"independent"}}},
    {"width":173,"height":75,"title":{"text":"LZF26","offset":-0.5},"data":{"name":"d"},"transform":[{"filter":"datum.p==='LZF26'"}],
     "encoding":{"x":{"field":"day","type":"ordinal","scale":{"type":"point","padding":0.5,"domain":["5D","7D","14D","21D","30D","45D","60D"]}},"y":{"field":"v","type":"quantitative","scale":{"domain":[0,4000],"nice":false},"axis":{"values":[0,1000,2000,3000,4000]}}},
     "layer":[
      {"mark":"line","encoding":{"color":{"field":"s","type":"nominal","scale":{"domain":["CD36","ICAM-1","CSA","HA","BSA"],"range":["#000080","#FF00FF","#FFFF00","#00FFFF","#800080"]},"legend":null},"order":{"field":"i","type":"quantitative"}}},
      {"mark":{"type":"point","filled":true,"opacity":1,"size":100},"encoding":{"color":{"field":"s","type":"nominal","scale":{"domain":["CD36","ICAM-1","CSA","HA","BSA"],"range":["#000080","#FF00FF","#FFFF00","#00FFFF","#800080"]},"legend":null},"shape":{"field":"s","type":"nominal","scale":{"domain":["CD36","ICAM-1","CSA","HA","BSA"],"range":["M0,-0.75L0.75,0L0,0.75L-0.75,0Z","M-0.6,-0.6H0.6V0.6H-0.6Z","M0,-0.7L0.7,0.5H-0.7Z","M-0.6,-0.43L-0.43,-0.6L0.6,0.43L0.43,0.6ZM-0.43,0.6L-0.6,0.43L0.43,-0.6L0.6,-0.43Z","M-0.6,-0.43L-0.43,-0.6L0.6,0.43L0.43,0.6ZM-0.43,0.6L-0.6,0.43L0.43,-0.6L0.6,-0.43ZM-0.12,-0.7H0.12V0.7H-0.12Z"]},"legend":null}}},
      {"mark":{"type":"point","filled":true,"opacity":0,"size":100},"encoding":{"color":{"field":"s","type":"nominal","scale":{"domain":["CD36","ICAM-1","CSA","HA","BSA"],"range":["#000080","#FF00FF","#FFFF00","#00FFFF","#800080"]},"legend":{"orient":"none","legendX":190,"legendY":-23,"title":null}},"shape":{"field":"s","type":"nominal","scale":{"domain":["CD36","ICAM-1","CSA","HA","BSA"],"range":["M-2,-0.15H2V0.15H-2ZM0,-0.75L0.75,0L0,0.75L-0.75,0Z","M-2,-0.15H2V0.15H-2ZM-0.6,-0.6H0.6V0.6H-0.6Z","M-2,-0.15H2V0.15H-2ZM0,-0.7L0.7,0.5H-0.7Z","M-2,-0.15H2V0.15H-2ZM-0.6,-0.43L-0.43,-0.6L0.6,0.43L0.43,0.6ZM-0.43,0.6L-0.6,0.43L0.43,-0.6L0.6,-0.43Z","M-2,-0.15H2V0.15H-2ZM-0.6,-0.43L-0.43,-0.6L0.6,0.43L0.43,0.6ZM-0.43,0.6L-0.6,0.43L0.43,-0.6L0.6,-0.43ZM-0.12,-0.7H0.12V0.7H-0.12Z"]},"legend":{"orient":"none","legendX":190,"legendY":-23,"title":null}}}}
     ],
     "resolve":{"scale":{"color":"independent","shape":"independent"}}}
   ]}
  ]}
 ]
}]
}
